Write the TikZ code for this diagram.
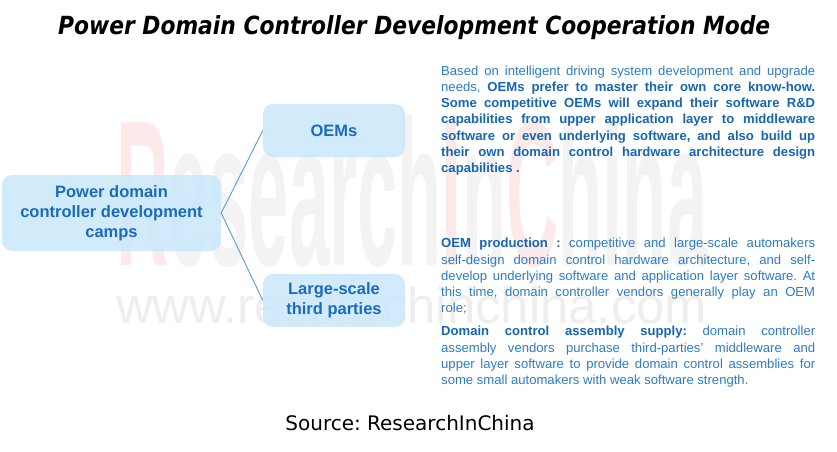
\documentclass[tikz,border=0pt]{standalone}
\usepackage{fontspec}
\setmainfont{Liberation Sans}
\newfontfamily\titlefont{DejaVu Sans}
\usepackage{graphicx}
\frenchspacing
\definecolor{boxfill}{HTML}{CCE8FB}
\definecolor{boxtext}{HTML}{1A6BBE}
\definecolor{txtreg}{HTML}{2B7BC8}
\definecolor{txtbold}{HTML}{1565B6}
\definecolor{linkcol}{HTML}{5B9BD5}
\definecolor{wmgray}{HTML}{F3F3F3}
\definecolor{wmred}{HTML}{FCE9E9}
\definecolor{wmgray2}{HTML}{EEEEEE}
\begin{document}
\begin{tikzpicture}[x=1pt,y=-1pt,
  campbox/.style={draw=none, fill=boxfill, fill opacity=0.88, text opacity=1,
    rounded corners=10pt, inner sep=0pt, align=center, text=boxtext,
    font=\fontsize{16.5}{20}\selectfont\bfseries},
  para/.style={anchor=north west, inner sep=0pt, text width=374pt, align=justify,
    text=txtreg, font=\fontsize{13.1}{16.2}\selectfont\frenchspacing},
  link/.style={draw=linkcol, line width=0.9pt}]
\useasboundingbox (0,0) rectangle (837,451);
% watermark
\node[anchor=base west, inner sep=0pt] (wm1) at (116,265)
  {\resizebox{591pt}{150pt}{\bfseries\color{wmred}R\color{wmgray}esearch\color{wmred}I\color{wmgray}n\color{wmred}C\color{wmgray}hina}};
\node[anchor=base west, inner sep=0pt] (wm2) at (116,323)
  {\resizebox{591pt}{!}{\color{wmgray2}www.researchinchina.com}};
% title
\node[anchor=base west, inner sep=0pt] (title) at (58,34)
  {\resizebox{712pt}{19pt}{\titlefont\bfseries\itshape Power Domain Controller Development Cooperation Mode}};
% boxes
\node[campbox, minimum width=219pt, minimum height=76pt] (camps) at (111.5,213)
  {Power domain\\controller development\\camps};
\node[campbox, minimum width=142pt, minimum height=53pt] (oems) at (334,130.5) {OEMs};
\node[campbox, minimum width=142pt, minimum height=53pt] (third) at (334,300.5)
  {Large-scale\\third parties};
\draw[link] (camps.east) -- (oems.west);
\draw[link] (camps.east) -- (third.west);
% paragraphs
\node[para] (p1) at (441,63.7) {\tolerance=9999\hyphenpenalty=10000\strut Based on intelligent driving system development and upgrade\linebreak
needs, \textbf{\color{txtbold}OEMs prefer to master their own core know-how.}\linebreak
\textbf{\color{txtbold}Some competitive OEMs will expand their software R\&D}\linebreak
\textbf{\color{txtbold}capabilities from upper application layer to middleware}\linebreak
\textbf{\color{txtbold}software or even underlying software, and also build up}\linebreak
\textbf{\color{txtbold}their own domain control hardware architecture design}\linebreak
\textbf{\color{txtbold}capabilities .}};
\node[para] (p2) at (441,236.3) {\tolerance=9999\hyphenpenalty=10000\strut \textbf{\color{txtbold}OEM production :} competitive and large-scale automakers\linebreak
self-design domain control hardware architecture, and self-\linebreak
develop underlying software and application layer software. At\linebreak
this time, domain controller vendors generally play an OEM\linebreak
role;};
\node[para] (p3) at (441,324.3) {\tolerance=9999\hyphenpenalty=10000\strut \textbf{\color{txtbold}Domain control assembly supply:} domain controller\linebreak
assembly vendors purchase third-parties' middleware and\linebreak
upper layer software to provide domain control assemblies for\linebreak
some small automakers with weak software strength.};
% source
\node[anchor=base, inner sep=0pt] (src) at (410,430)
  {\titlefont\fontsize{20}{24}\selectfont Source: ResearchInChina};
\end{tikzpicture}
\end{document}
